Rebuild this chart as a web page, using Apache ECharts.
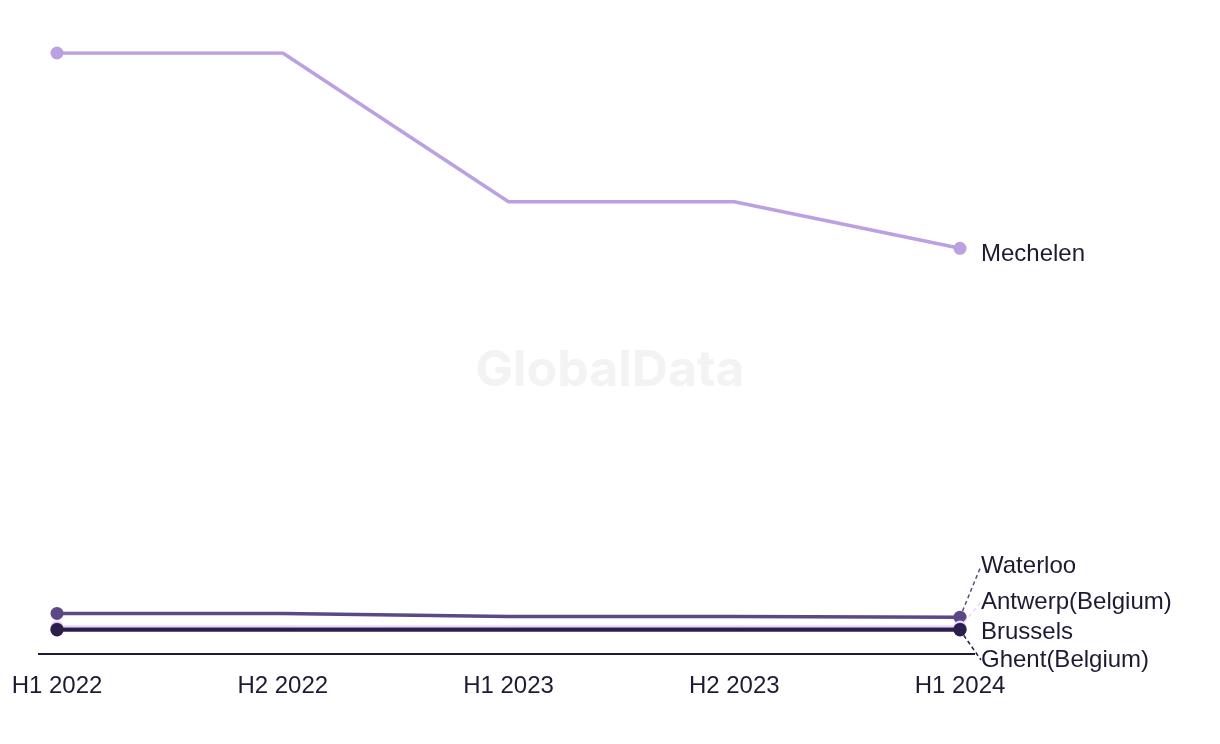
<!DOCTYPE html>
<html><head><meta charset="utf-8">
<script src="https://cdn.jsdelivr.net/npm/echarts@6/dist/echarts.min.js"></script>
<style>html,body{margin:0;padding:0;background:#fff}#c{width:1220px;height:744px}</style>
</head><body><div id="c"></div>
<script>
const categories = ['H1 2022','H2 2022','H1 2023','H2 2023','H1 2024'];
const seriesNames = ['Mechelen','Waterloo','Antwerp(Belgium)','Brussels','Ghent(Belgium)'];
const mechelen = [4.0, 4.0, 3.01, 3.01, 2.7];
const waterloo = [0.27, 0.27, 0.25, 0.25, 0.245];
const antwerp = [0.18, 0.18, 0.18, 0.18, 0.18];
const brussels = [0.165, 0.165, 0.165, 0.165, 0.165];
const ghent = [0.16, 0.16, 0.16, 0.16, 0.16];
const colors = ['#bba0e2','#5d4887','#e8d7f8','#3f2c62','#2d1d4c'];
const labelY = [254, 566, 602, 632, 660];
const leaderShown = [false, true, true, false, true];
const allData = [mechelen, waterloo, antwerp, brussels, ghent];

const chart = echarts.init(document.getElementById('c'));
const font = '"Liberation Sans", Arial, sans-serif';
const wmFont = 'Inter, sans-serif';
chart.setOption({
  animation: false,
  grid: {left: 57, right: 260, top: 53, bottom: 90, containLabel: false},
  xAxis: {
    type: 'category', data: categories, boundaryGap: false,
    axisLine: {show: false}, axisTick: {show: false}, splitLine: {show: false},
    axisLabel: {color: '#1d1b33', fontSize: 24, fontFamily: font, margin: 20}
  },
  yAxis: {type: 'value', min: 0, max: 4, show: false, splitLine: {show: false}},
  series: seriesNames.map((name, i) => ({
    name, type: 'line', data: allData[i], z: 2 + i,
    color: colors[i],
    lineStyle: {width: 3.5, color: colors[i]},
    symbol: 'circle',
    symbolSize: (v, p) => (p.dataIndex === 0 || p.dataIndex === categories.length - 1) ? 13 : 0,
    showSymbol: true,
    itemStyle: {color: colors[i]},
    label: {
      show: true,
      formatter: p => p.dataIndex === categories.length - 1 ? name : '',
      position: 'right', distance: 14,
      color: '#1d1b33', fontSize: 24, fontFamily: font
    },
    labelLine: {
      show: leaderShown[i], smooth: false,
      lineStyle: {color: colors[i], width: 1.5, type: [4, 3]}
    },
    labelLayout: p => p.dataIndex === categories.length - 1
      ? {x: 981, y: labelY[i], align: 'left', verticalAlign: 'middle'}
      : {}
  }))
});

const x0 = chart.convertToPixel({xAxisIndex: 0}, 0);
const x4 = chart.convertToPixel({xAxisIndex: 0}, categories.length - 1);
const y0 = chart.convertToPixel({yAxisIndex: 0}, 0);
chart.setOption({
  graphic: [{
    type: 'text', left: 'center', top: 346, z: 0,
    style: {text: 'GlobalData', fill: '#f3f3f3', font: 'bold 50px ' + wmFont}
  }, {
    type: 'line', z: 1,
    shape: {x1: x0 - 19, y1: y0, x2: x4 + 15, y2: y0},
    style: {stroke: '#1d1b33', lineWidth: 2}
  }]
});
</script></body></html>
